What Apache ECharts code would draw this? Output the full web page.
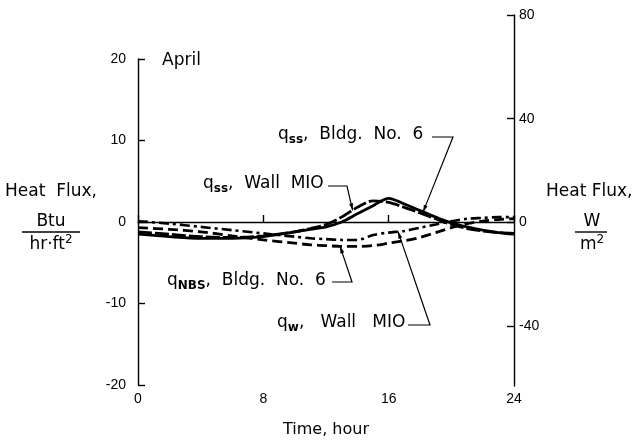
<!DOCTYPE html>
<html>
<head>
<meta charset="utf-8">
<script src="https://cdn.jsdelivr.net/npm/echarts@6/dist/echarts.min.js"></script>
<style>
  html, body { margin: 0; padding: 0; background: #fff; }
  #chart { width: 644px; height: 443px; }
</style>
</head>
<body>
<div id="chart"></div>
<script>
// Hour of day
const hours = [0, 2, 4, 6, 8, 10, 11, 12, 13, 14, 15, 16, 17, 18, 19, 20, 21, 22, 23, 24];
// Heat flux, Btu/hr·ft²
const qssBldg6   = [-1.5, -1.8, -2.0, -2.0, -1.8, -1.2, -0.9, -0.6, 0.0, 1.0, 2.0, 2.9, 2.2, 1.4, 0.6, -0.1, -0.6, -1.0, -1.3, -1.5];
const qssWallM10 = [-1.2, -1.5, -1.8, -1.9, -1.7, -1.2, -0.8, -0.3, 0.6, 1.8, 2.6, 2.4, 1.8, 1.1, 0.4, -0.3, -0.8, -1.1, -1.3, -1.4];
const qNBSBldg6  = [-0.7, -0.9, -1.2, -1.7, -2.2, -2.6, -2.8, -2.9, -3.0, -3.0, -2.9, -2.6, -2.3, -1.9, -1.3, -0.7, -0.2, 0.1, 0.3, 0.4];
const qwWallM10  = [0.1, -0.2, -0.6, -1.0, -1.4, -1.8, -2.0, -2.1, -2.2, -2.2, -1.6, -1.3, -1.1, -0.7, -0.3, 0.1, 0.4, 0.5, 0.6, 0.6];

const hourTicks = [0, 8, 16, 24];
const btuTicks = [-20, -10, 0, 10, 20];
const wattTicks = [-40, 0, 40, 80];
const BTU_PER_WATT = 3.1546; // 1 W/m² = 0.317 Btu/hr·ft²

const FONT = 'DejaVu Sans';
const INK = '#000';

const pairs = (ys) => hours.map((h, i) => [h, ys[i]]);

const chart = echarts.init(document.getElementById('chart'), null, { renderer: 'canvas' });

const lineSeries = (name, ys, type, width) => ({
  name,
  type: 'line',
  xAxisIndex: 0,
  yAxisIndex: 0,
  data: pairs(ys),
  showSymbol: false,
  smooth: 0.3,
  lineStyle: { color: INK, width: width, type: type, cap: 'butt' },
  silent: true,
  z: 3
});

const series = [
  lineSeries('qssBldg6', qssBldg6, 'solid', 2.8),
  lineSeries('qssWallM10', qssWallM10, [14, 3], 2.8),
  lineSeries('qNBSBldg6', qNBSBldg6, [10, 5], 2.8),
  lineSeries('qwWallM10', qwWallM10, [10, 4, 3, 4], 2.6)
];
series[0].markLine = {
  silent: true,
  symbol: 'none',
  label: { show: false },
  lineStyle: { color: INK, width: 1, type: 'solid' },
  data: [{ yAxis: 0 }]
};

const tickLabel = { color: INK, fontFamily: 'Liberation Sans', fontSize: 14 };

chart.setOption({
  animation: false,
  backgroundColor: '#fff',
  grid: [
    { left: 138, right: 130, top: 59, bottom: 57 },
    { left: 138, right: 130, top: 15, bottom: 57 }
  ],
  xAxis: [
    {
      gridIndex: 0, type: 'value', min: 0, max: 24, interval: 8,
      axisLine: { lineStyle: { color: INK, width: 1.4 } },
      axisTick: { inside: true, length: 7, lineStyle: { color: INK, width: 1.4 } },
      axisLabel: Object.assign({ margin: 7, formatter: v => hourTicks.includes(v) ? String(v) : '' }, tickLabel),
      splitLine: { show: false },
      name: 'Time, hour', nameLocation: 'middle', nameGap: 37,
      nameTextStyle: { color: INK, fontFamily: FONT, fontSize: 16 }
    },
    { gridIndex: 1, type: 'value', min: 0, max: 24, show: false }
  ],
  yAxis: [
    {
      gridIndex: 0, type: 'value', min: -20, max: 20, interval: 10, position: 'left',
      axisLine: { show: true, lineStyle: { color: INK, width: 1.4 } },
      axisTick: { show: true, inside: true, length: 7, lineStyle: { color: INK, width: 1.4 } },
      axisLabel: Object.assign({ margin: 12, formatter: v => btuTicks.includes(v) ? String(v) : '' }, tickLabel),
      splitLine: { show: false }
    },
    {
      gridIndex: 1, type: 'value', min: -20 * BTU_PER_WATT, max: 80, position: 'right',
      axisLine: { show: true, onZero: false, lineStyle: { color: INK, width: 1.4 } },
      axisTick: { show: true, inside: true, length: 7, customValues: wattTicks, lineStyle: { color: INK, width: 1.4 } },
      axisLabel: Object.assign({ margin: 5, customValues: wattTicks }, tickLabel),
      splitLine: { show: false }
    }
  ],
  series: series
});

// Annotation helpers
function valueAt(ys, h) {
  for (let i = 0; i < hours.length - 1; i++) {
    if (h >= hours[i] && h <= hours[i + 1]) {
      const t = (h - hours[i]) / (hours[i + 1] - hours[i]);
      return ys[i] + t * (ys[i + 1] - ys[i]);
    }
  }
  return ys[ys.length - 1];
}

const richStyles = {
  m: { fontFamily: FONT, fontSize: 17, lineHeight: 22, fill: INK },
  s: { fontFamily: FONT, fontSize: 12, fontWeight: 'bold', lineHeight: 10, verticalAlign: 'bottom', fill: INK },
  p: { fontFamily: FONT, fontSize: 12, lineHeight: 12, verticalAlign: 'top', fill: INK }
};

const notes = [
  { text: '{m|q}{s|ss}{m|,  Bldg.  No.  6}', x: 278, y: 137, elbow: [[432, 137], [453, 137]], ys: qssBldg6, hour: 18.2 },
  { text: '{m|q}{s|ss}{m|,  Wall  MIO}', x: 203, y: 186, elbow: [[328, 186], [347, 186]], ys: qssWallM10, hour: 13.7 },
  { text: '{m|q}{s|NBS}{m|,  Bldg.  No.  6}', x: 167, y: 283, elbow: [[332, 282], [352, 282]], ys: qNBSBldg6, hour: 12.9 },
  { text: '{m|q}{s|w}{m|,   Wall   MIO}', x: 277, y: 325, elbow: [[408, 325], [430, 325]], ys: qwWallM10, hour: 16.6 }
];

const graphics = [];
notes.forEach(n => {
  const tip = chart.convertToPixel({ xAxisIndex: 0, yAxisIndex: 0 }, [n.hour, valueAt(n.ys, n.hour)]);
  const corner = n.elbow[1];
  graphics.push({
    type: 'text', left: n.x, top: n.y - 11, silent: true,
    style: { text: n.text, rich: richStyles, fill: INK }
  });
  graphics.push({
    type: 'polyline', silent: true,
    shape: { points: [n.elbow[0], corner, tip] },
    style: { stroke: INK, lineWidth: 1.2, fill: null }
  });
  // small arrowhead at the curve
  const dx = tip[0] - corner[0], dy = tip[1] - corner[1];
  const len = Math.hypot(dx, dy);
  const ux = dx / len, uy = dy / len;
  const bx = tip[0] - ux * 7, by = tip[1] - uy * 7;
  graphics.push({
    type: 'polygon', silent: true,
    shape: { points: [tip, [bx - uy * 2, by + ux * 2], [bx + uy * 2, by - ux * 2]] },
    style: { fill: INK }
  });
});

// Axis titles and panel label
const title = { fontFamily: FONT, fontSize: 17, fill: INK };
graphics.push(
  { type: 'text', left: 162, top: 52, silent: true, style: Object.assign({ text: 'April' }, title) },
  { type: 'text', left: 5, top: 183, silent: true, style: Object.assign({ text: 'Heat  Flux,' }, title) },
  { type: 'text', x: 51, y: 222, silent: true,
    style: Object.assign({ text: 'Btu', align: 'center', verticalAlign: 'middle' }, title) },
  { type: 'line', silent: true, shape: { x1: 22, y1: 232, x2: 80, y2: 232 }, style: { stroke: INK, lineWidth: 1.4 } },
  { type: 'text', x: 51, y: 245, silent: true,
    style: { text: '{m|hr·ft}{p|2}', rich: richStyles, align: 'center', verticalAlign: 'middle' } },
  { type: 'text', left: 546, top: 183, silent: true, style: Object.assign({ text: 'Heat Flux,' }, title) },
  { type: 'text', x: 592, y: 222, silent: true,
    style: Object.assign({ text: 'W', align: 'center', verticalAlign: 'middle' }, title) },
  { type: 'line', silent: true, shape: { x1: 575, y1: 232, x2: 607, y2: 232 }, style: { stroke: INK, lineWidth: 1.4 } },
  { type: 'text', x: 592, y: 245, silent: true,
    style: { text: '{m|m}{p|2}', rich: richStyles, align: 'center', verticalAlign: 'middle' } }
);

chart.setOption({ graphic: graphics });
</script>
</body>
</html>
